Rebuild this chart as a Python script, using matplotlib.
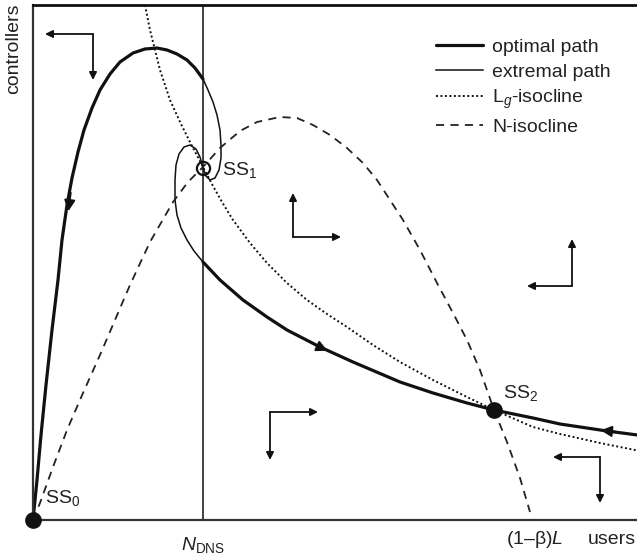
import matplotlib
matplotlib.use("Agg")
import matplotlib.pyplot as plt
import numpy as np

plt.rcParams['font.family'] = ['Liberation Sans', 'DejaVu Sans']
plt.rcParams['mathtext.fontset'] = 'custom'
plt.rcParams['mathtext.rm'] = 'Liberation Sans'
plt.rcParams['mathtext.it'] = 'Liberation Sans:italic'

# data (arbitrary units: users on x, controllers on y)
# optimal path, left branch (from Skiba point down to SS0)
opt_left_x = [170, 162, 154, 144, 134, 124, 112, 100, 87, 77, 67, 59, 51, 45, 39, 34, 29, 25, 19, 13, 8, 4, 1, 0]
opt_left_y = [441, 452, 460, 466, 470, 472, 471, 467, 458, 446, 430, 412, 390, 368, 342, 315, 280, 240, 190, 135, 85, 40, 10, 0]
# optimal path, right branch (Skiba point to SS2 and beyond)
opt_right_x = [170, 187, 210, 234, 254, 287, 320, 367, 400, 434, 461, 500, 527, 574, 612]
opt_right_y = [258, 240, 220, 203, 190, 173, 158, 138, 127, 117, 110, 102, 96, 89, 84]
# extremal paths spiralling out of SS1
ext_up_x = [170, 173, 177, 182, 186, 188, 188, 187, 184, 180, 175, 170]
ext_up_y = [352, 344, 340, 342, 350, 362, 375, 390, 405, 418, 430, 441]
ext_low_x = [170, 167, 163, 157, 151, 146, 143, 142, 142, 144, 148, 154, 161, 170]
ext_low_y = [352, 363, 371, 375, 373, 366, 355, 340, 320, 305, 292, 280, 269, 258]
# L_g-isocline
lg_x = [112, 117, 127, 137, 148, 159, 170, 180, 189, 200, 217, 234, 254, 274, 294, 314, 340, 367, 400, 434, 461, 500, 527, 567, 612]
lg_y = [515, 490, 450, 420, 396, 374, 353, 334, 318, 300, 277, 257, 237, 220, 206, 193, 175, 158, 140, 123, 110, 93, 86, 77, 68]
# N-isocline
n_x = [0, 7, 20, 34, 50, 67, 82, 97, 117, 140, 155, 170, 187, 207, 224, 247, 264, 280, 297, 314, 330, 344, 357, 370, 387, 404, 420, 434, 447, 461, 474, 487, 497]
n_y = [0, 17, 53, 90, 127, 165, 200, 235, 278, 318, 338, 353, 372, 389, 398, 403, 402, 395, 385, 372, 357, 340, 320, 300, 270, 237, 207, 180, 150, 110, 78, 42, 8]

n_dns = 170
ss_x = [0, 170, 461]
ss_y = [0, 352, 110]
ss_names = ['SS$_0$', 'SS$_1$', 'SS$_2$']

# phase direction arrows: corner, horizontal end, vertical end
phase_corner = [(60, 486), (260, 283), (539, 234), (237, 108), (567, 63)]
phase_h_end = [(12, 486), (308, 283), (494, 234), (285, 108), (520, 63)]
phase_v_end = [(60, 440), (260, 327), (539, 281), (237, 60), (567, 17)]

W, H = 637, 554
fs = 14
tcol = '#222222'
fig = plt.figure(figsize=(W / 100, H / 100), dpi=100)
ax = fig.add_axes([33 / W, 34 / H, 612 / W, 515 / H])
ax.set_xlim(0, 612)
ax.set_ylim(0, 515)
ax.set_xticks([])
ax.set_yticks([])
ax.spines['right'].set_visible(False)
for s in ['left', 'bottom']:
    ax.spines[s].set_linewidth(1.6)
    ax.spines[s].set_color('#333333')
ax.spines['top'].set_linewidth(2.0)
ax.spines['top'].set_color('#111111')

col = '#111111'
ax.axvline(n_dns, color='#333333', lw=1.3)

ax.plot(opt_left_x, opt_left_y, color=col, lw=2.3, solid_capstyle='round', label='optimal path')
ax.plot(opt_right_x, opt_right_y, color=col, lw=2.3, solid_capstyle='round')
ax.plot(ext_up_x, ext_up_y, color=col, lw=1.1, label='extremal path')
ax.plot(ext_low_x, ext_low_y, color=col, lw=1.1)
ax.plot(lg_x, lg_y, color=col, lw=1.4, ls=(0, (1, 1.3)), label='L$_g$-isocline')
ax.plot(n_x, n_y, color='#222222', lw=1.3, ls=(0, (4.5, 3.5)), label='N-isocline')

# arrows on the optimal path
ax.annotate('', xy=(35, 306), xytext=(38, 330),
            arrowprops=dict(arrowstyle='-|>', color=col, lw=1.5, mutation_scale=16))
ax.annotate('', xy=(297, 168), xytext=(280, 176),
            arrowprops=dict(arrowstyle='-|>', color=col, lw=1.5, mutation_scale=16))
ax.annotate('', xy=(565, 90), xytext=(585, 88),
            arrowprops=dict(arrowstyle='-|>', color=col, lw=1.5, mutation_scale=16))

# phase arrows
for c, h, v in zip(phase_corner, phase_h_end, phase_v_end):
    ax.annotate('', xy=h, xytext=c,
                arrowprops=dict(arrowstyle='-|>', color=col, lw=1.3, mutation_scale=11,
                                shrinkA=0, shrinkB=0))
    ax.annotate('', xy=v, xytext=c,
                arrowprops=dict(arrowstyle='-|>', color=col, lw=1.3, mutation_scale=11,
                                shrinkA=0, shrinkB=0))

# steady states
ax.plot(ss_x[0], ss_y[0], 'o', color=col, ms=11, clip_on=False, zorder=5)
ax.plot(ss_x[2], ss_y[2], 'o', color=col, ms=11, zorder=5)
ax.plot(ss_x[1], ss_y[1], 'o', mfc='none', mec=col, ms=9.5, mew=1.6, zorder=5)
ax.text(12, 22, ss_names[0], fontsize=fs, color=tcol, va='center', ha='left')
ax.text(189, 350, ss_names[1], fontsize=fs, color=tcol, va='center', ha='left')
ax.text(470, 127, ss_names[2], fontsize=fs, color=tcol, va='center', ha='left')

# axis labels
fig.text(14 / W, 1 - 4 / H, 'controllers', rotation=90, fontsize=fs, color=tcol,
         ha='center', va='top')
fig.text(636 / W, 1 - 540 / H, 'users', fontsize=fs, color=tcol, ha='right', va='center')
fig.text(203 / W, 1 - 545 / H, r'$\mathit{N}_{\mathrm{DNS}}$', fontsize=fs, color=tcol,
         ha='center', va='center')
fig.text(535 / W, 1 - 540 / H, r'(1–β)$\mathit{L}$', fontsize=fs, color=tcol,
         ha='center', va='center')

ax.legend(loc='upper left', bbox_to_anchor=(436 / W, 1 - 38 / H), bbox_transform=fig.transFigure,
          frameon=False, fontsize=fs, handlelength=2.4, handletextpad=0.5,
          labelspacing=0.38, borderpad=0, borderaxespad=0, labelcolor=tcol)

fig.savefig('out.png', dpi=100)
